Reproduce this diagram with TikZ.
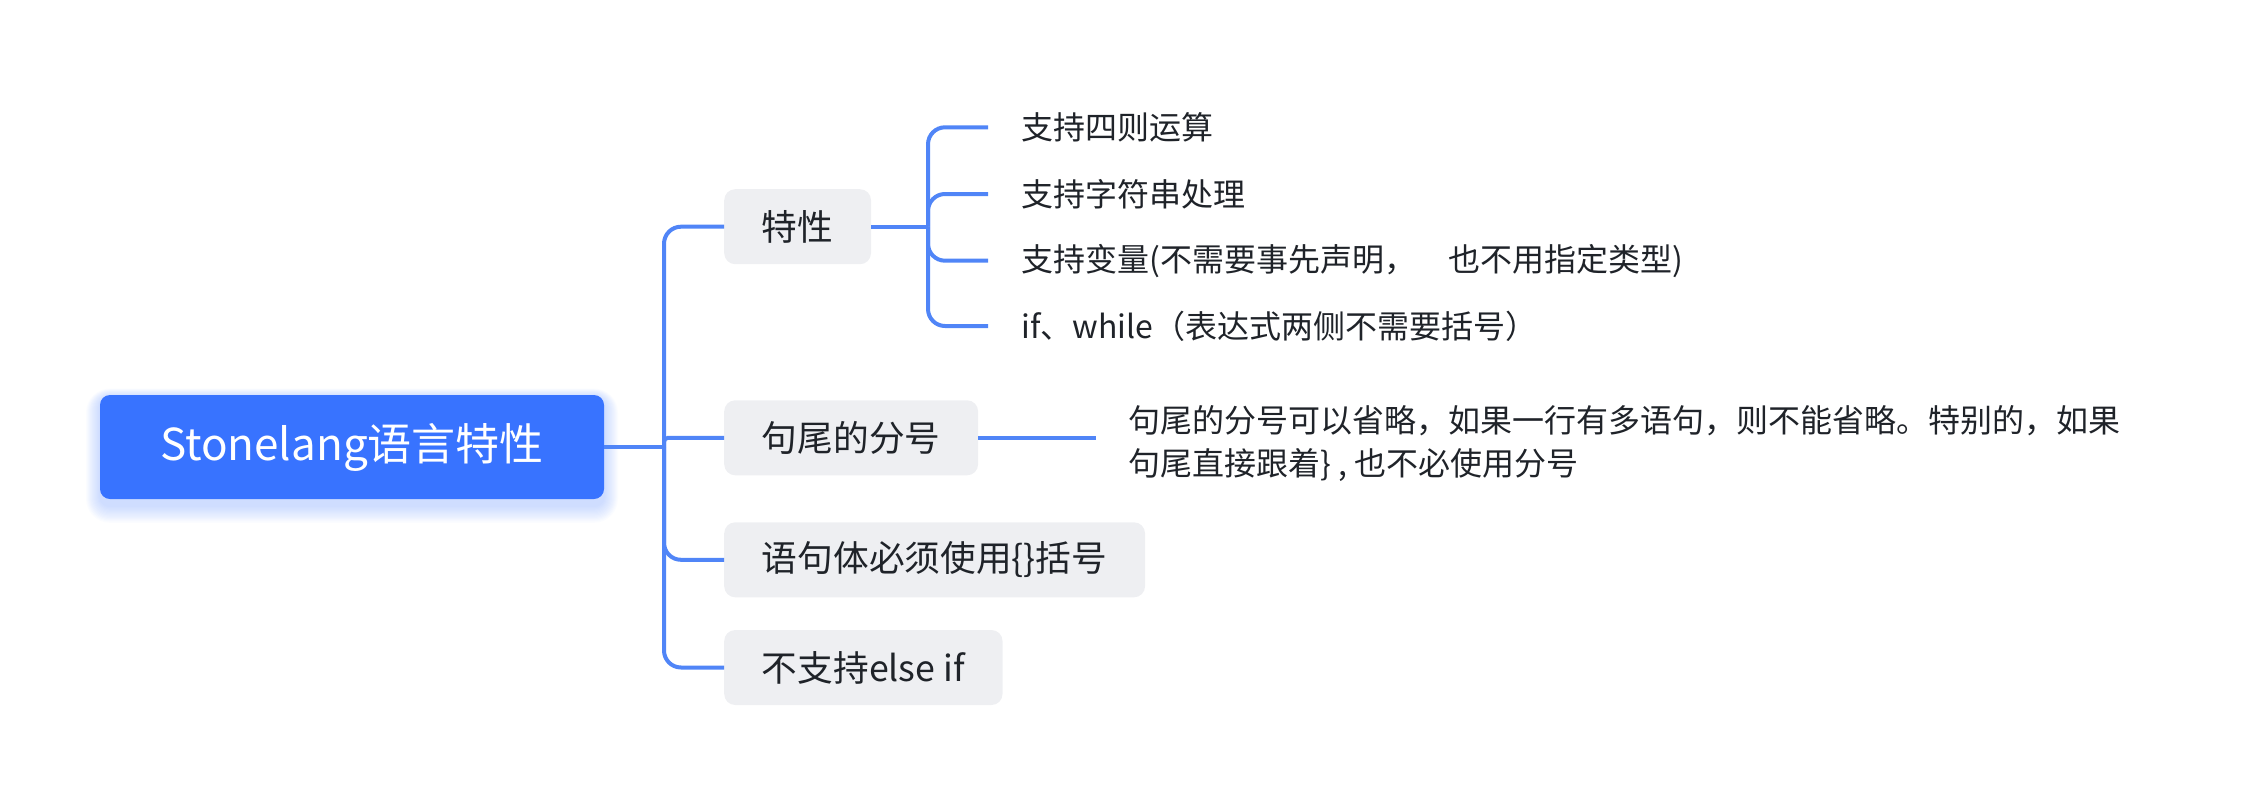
\documentclass[tikz,border=0pt]{standalone}
\usepackage{fontspec}
\setmainfont{Noto Sans CJK SC}
\definecolor{linkblue}{HTML}{5085F7}
\definecolor{rootblue}{HTML}{3873FF}
\definecolor{boxgray}{HTML}{EEEFF2}
\definecolor{ink}{HTML}{1F2329}
\begin{document}
\begin{tikzpicture}[x=1pt,y=-1pt,
  link/.style={draw=linkblue, line width=4pt},
  rootbox/.style={fill=rootblue, rounded corners=10pt, text=white,
    minimum width=504pt, minimum height=104pt, inner sep=0pt,
    font=\fontsize{44}{52}\selectfont},
  topic/.style={fill=boxgray, rounded corners=11pt, text=ink, anchor=west,
    minimum height=75pt, inner xsep=37.7pt, inner ysep=0pt,
    font=\fontsize{35.7}{42}\selectfont},
  leaf/.style={anchor=west, text=ink, inner xsep=33pt, inner ysep=0pt,
    font=\fontsize{32}{43.3}\selectfont},
  note/.style={anchor=west, text=ink, align=left, inner xsep=32pt, inner ysep=0pt,
    font=\fontsize{32}{43.3}\selectfont}]
\useasboundingbox (0,0) rectangle (2251,806);

% soft blue glow under the central topic
\foreach \i in {1,...,14}
  \fill[rootblue, opacity=0.02, rounded corners=10pt+\i pt]
    (100-\i, 397-0.6*\i) rectangle (604+\i, 506+1.2*\i);

\node[rootbox] (root) at (352,447) {Stonelang语言特性};

% main topics
\node[topic] (b1) at (724,226.7) {特性};
\node[topic] (b2) at (724,437.8) {句尾的分号};
\node[topic] (b3) at (724,559.8) {语句体必须使用\{\}括号};
\node[topic] (b4) at (724,667.5) {不支持else if};

% subtopics of 特性
\node[leaf] (l1) at (988,127.3) {支持四则运算};
\node[leaf] (l2) at (988,194.0) {支持字符串处理};
\node[leaf] (l3) at (988,260.7) {支持变量(不需要事先声明，\hspace{1em}也不用指定类型)};
\node[leaf] (l4) at (988,326.0) {if、while（表达式两侧不需要括号）};

% note on 句尾的分号
\node[note] (n1) at (1096,443.3)
  {句尾的分号可以省略，如果一行有多语句，则不能省略。特别的，如果\\句尾直接跟着\} , 也不必使用分号};

% connectors
\coordinate (hub) at (664,447);
\coordinate (sh) at (928,226.7);
\draw[link] (root.east) -- (hub);
\draw[link, rounded corners=17pt] (hub) |- (b1.west);
\draw[link, rounded corners=4pt] (hub) |- (b2.west);
\draw[link, rounded corners=17pt] (hub) |- (b3.west);
\draw[link, rounded corners=17pt] (hub) |- (b4.west);

\draw[link] (b1.east) -- (sh);
\draw[link, rounded corners=17pt] (sh) |- (l1.west);
\draw[link, rounded corners=17pt] (sh) |- (l2.west);
\draw[link, rounded corners=17pt] (sh) |- (l3.west);
\draw[link, rounded corners=17pt] (sh) |- (l4.west);

\draw[link] (b2.east) -- (b2.east -| n1.west);
\end{tikzpicture}
\end{document}
